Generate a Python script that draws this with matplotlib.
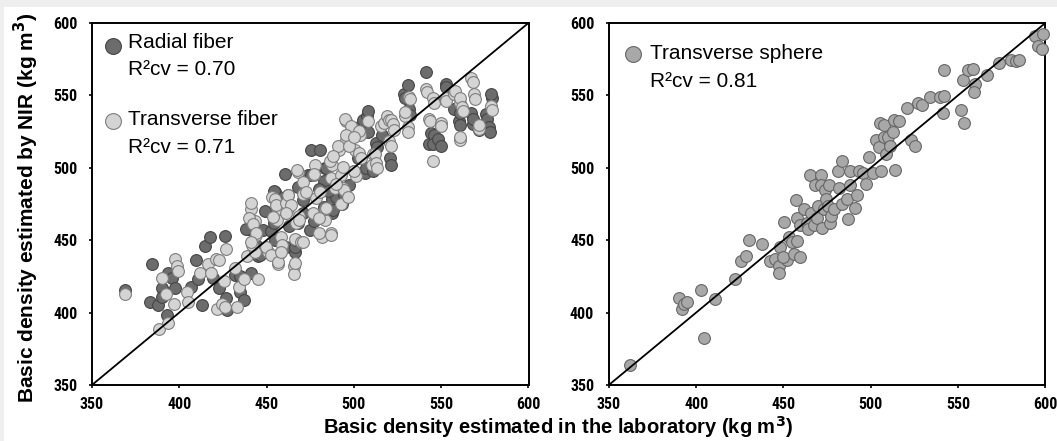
import matplotlib
matplotlib.use("Agg")
import matplotlib.pyplot as plt
from matplotlib import font_manager
from matplotlib.patches import Rectangle

# Radial fiber (dark grey)
radial_x = [369, 384.5, 383, 388, 393, 393.4, 389.9, 390, 396, 397.7, 406.6, 409.6, 413, 410.6,
            415, 417.5, 419.4, 423, 426, 427.4, 427, 432, 435, 437, 435, 441, 440.8, 441, 438.3,
            445, 446, 447.8, 444, 449,
            452.6, 454, 455, 454, 455, 457, 454.5, 460.5, 461, 462, 462, 466, 466, 466.8, 467.8,
            470.8, 474.7, 474, 475.7, 475.7, 480.6, 483.6, 484.1, 482.6, 482.6, 487.5, 487.5, 488,
            490, 494.4, 458, 463, 468, 471, 477, 480, 485, 490, 493, 497, 459,
            500, 502.4, 503, 505, 507.3, 508.3, 508, 506.3, 507, 511.2, 512.7, 513, 516, 520.7, 521.3,
            528.9, 529, 531, 531.8, 532, 541.4, 543, 544, 546, 545.5, 548, 550, 552.7, 553, 557.5,
            560.4, 561, 560.5, 567, 568, 568, 571.5, 575.6, 576, 577.5, 578, 579, 578.8]
radial_y = [415.7, 433.5, 407, 405.5, 398, 427.6, 417, 411, 424, 417, 418, 436, 405, 423,
            446, 452.5, 424, 417, 453, 401.5, 410, 426, 414.5, 409, 425, 427.6, 457, 464, 458,
            439.4, 440, 457, 447, 470,
            456, 462, 450, 482, 483, 480, 484, 495.5, 445, 474, 481, 442, 445, 450, 487,
            469, 457, 495, 495, 512, 512, 500, 500, 490.6, 473, 469, 478.6, 471,
            480, 481, 470, 460, 462, 478, 463, 485, 484, 490, 475, 488, 476,
            498, 507, 528, 533, 535.5, 525, 539, 496.5, 500, 497.5, 517.4, 514, 522.4, 506.6, 502,
            550.7, 548.4, 557, 540.4, 536.7, 566, 516.5, 524, 522.4, 516.5, 520, 515, 557.6, 555.6, 540.4,
            532.3, 538, 529.6, 538, 530, 534, 526, 537, 534, 527.8, 525, 548.5, 550.7]

# Transverse fiber (light grey)
transverse_x = [369, 388.5, 393.8, 389.9, 392.6, 397.4, 398.7, 399, 397, 404.6, 405, 411.6, 416.5,
                418, 421, 422.6, 426.9, 421.4, 424.4, 426.4, 433.3, 425.8, 432, 434, 437, 438.8,
                445, 443.5, 441.2, 443.5, 444, 441.6, 441, 440, 442, 444, 441, 450.6, 449.8,
                453, 455, 456.5, 456.5, 457, 458.5, 459, 456, 452.6, 456.4, 458.3, 453.5, 455.5,
                461, 462, 462.5, 464, 461.2, 465.8, 465.8, 466, 466, 467.8, 467.3, 466.8, 468.8,
                468.8, 469.8, 470.8, 470.7, 470.7, 472.7, 476.6, 477, 477.7, 477.4, 478.4, 480.6,
                481.6, 483.6, 483.6, 484.1, 480.3, 480.3, 487, 487.5, 487, 486.5, 487, 488.9,
                493.6, 491.5, 492.5, 492.5, 494.4, 496.4, 495.4, 495.4, 495.1, 498.4, 498.4,
                500.4, 501.4, 500.3, 493.6, 489.8, 490.7, 495.5, 487.9, 497.4, 503.3, 502.7,
                500.3, 503.1, 504.3, 508.3, 510.2, 510.7, 512.2, 512.7, 513, 515.6, 517, 519,
                520, 520.3, 521.3, 521.3, 522.2, 523,
                529, 529, 530.8, 531, 531.8, 532, 541.3, 542, 543.2, 543.8, 545.1, 545.5, 546,
                549.9, 550, 552.7, 553, 557.4, 558, 560.5, 560.7, 560.5, 560.7, 561.9, 562.5,
                567, 568, 569, 569.4, 571.5, 571.5, 578.8, 579]
transverse_y = [412.6, 389, 393, 424, 413, 437, 432, 428.7, 406, 414.5, 407, 427.6, 433.5,
                427.6, 437, 436, 444, 402.7, 406, 404, 404, 421.6, 431, 418, 423, 439.4,
                423, 442, 471.4, 463, 453.6, 446.5, 476, 465, 461, 455, 449, 442, 445,
                479.7, 478.6, 470, 433.5, 440.6, 452, 446.5, 464, 440, 435, 442, 466, 474,
                476, 468, 481, 474, 469, 432.3, 426.4, 451, 434, 497.4, 498.5, 462, 466.7,
                464, 449, 449, 482, 490, 483, 469, 495, 502, 496, 479, 483,
                452, 464, 471.4, 472, 465, 455, 455, 502, 453.6, 504.6, 493, 486,
                486, 512, 495, 475, 484.5, 480, 519, 532, 533.5, 526, 528.9,
                512, 494.4, 497.9, 500.2, 488.7, 515, 522.4, 508.2, 515, 522.3, 525.4,
                520.9, 510.5, 507, 532, 502, 509.4, 509.4, 503.6, 500, 528.9, 530.7, 535.5,
                533, 518.5, 515, 533, 530, 526,
                535.5, 538.5, 527.8, 525, 549, 547.5, 554.7, 552.4, 533.5, 532, 548.3, 504.8, 545,
                531.2, 529, 548.3, 546, 551, 553, 545, 548.3, 519, 521.3, 542.2, 539,
                561.7, 559, 550.7, 547.4, 527, 529.4, 542.6, 539.7]

# Transverse sphere (medium grey)
sphere_x = [362, 390.4, 392, 393, 395, 402.7, 404.7, 411, 422, 425.8, 428.6, 430, 438, 442.3,
            445.2, 447.2, 447.6, 448.2, 450.5, 452, 449.7, 453.4, 455, 456, 457.6, 459.5, 457.2,
            458, 459.5, 461.5, 463.4, 464.2, 465.4, 466, 467.4, 468.2, 469.3, 470, 471.3, 471.7,
            472, 473, 473.6, 474.6, 475.6, 476.2, 476.6, 477.2, 479, 481, 482, 483.4, 483.4,
            486.4, 487, 488, 488.3, 491, 492.2, 493.2, 495.8, 497.5, 499, 501, 503, 505, 505.4,
            506, 507.3, 507.5, 508.5, 510, 511, 512.5, 513.5, 514, 516.3, 520.6, 523, 525.5, 527,
            529.5, 533.8, 539.8, 541.8, 541.2, 541.8, 551.6, 553.6, 553, 555.5, 558.3, 559.8, 559,
            566.7, 573.2, 580.4, 583, 585, 594.2, 595.6, 598, 598.6]
sphere_y = [363.5, 409.8, 402.7, 406, 407, 415.7, 382.5, 409.3, 423.5, 435.4, 439.4, 450, 447.3,
            435.4, 437, 432.3, 427, 445.4, 462.4, 436.3, 438.7, 452.5, 449, 440.6, 449.6, 438.2,
            477.4, 465.5, 460.8, 471.4, 462, 457.7, 494.7, 469, 460.8, 488, 465.5, 473.8, 494.7,
            488, 458.4, 471.4, 484.5, 478.6, 473.8, 488, 462, 466.7, 471.4, 497.5, 485.7, 504.6,
            475, 478.6, 464.8, 488, 497.5, 472, 481.4, 497.5, 496.4, 489, 507.5, 496.4, 519, 514,
            530.7, 497.5, 521.2, 529.6, 509.4, 521, 515.3, 524.8, 533, 498.7, 532.6, 541.4, 519,
            515.3, 545, 543, 549.2, 549.2, 549.7, 537.9, 567.5, 540.2, 531.2, 560.4, 567.5, 568.2,
            558, 552, 564, 572.2, 574.6, 573.4, 574.6, 591.2, 584, 581.7, 592.4]

ticks = [350, 400, 450, 500, 550, 600]
tick_labels = [str(t) for t in ticks]

# condensed bold for tick numbers (closest to Arial Narrow Bold)
tick_font = font_manager.FontProperties(family='Roboto Condensed', weight='bold', size=11.5)

fig = plt.figure(figsize=(10.57, 4.41), dpi=100)
fig.patch.set_facecolor('#eeeeee')
fig.add_artist(Rectangle((4 / 1057, 0), 1, 1 - 7 / 441, transform=fig.transFigure,
                         facecolor='white', edgecolor='none', zorder=-10))

ax1 = fig.add_axes([0.087, 0.127, 0.413, 0.821])
ax2 = fig.add_axes([0.576, 0.127, 0.413, 0.821])

ax1.scatter(radial_x, radial_y, s=72, c='#6c6c6c', edgecolors='#454545', linewidths=0.8, zorder=3, clip_on=False)
ax1.scatter(transverse_x, transverse_y, s=72, c='#d4d4d4', edgecolors='#7e7e7e', linewidths=0.8, zorder=3, clip_on=False)
ax2.scatter(sphere_x, sphere_y, s=72, c='#a8a8a8', edgecolors='#666666', linewidths=0.8, zorder=3, clip_on=False)

for ax in (ax1, ax2):
    ax.set_facecolor('white')
    ax.plot([350, 600], [350, 600], color='black', lw=1.3, zorder=4)
    ax.set_xlim(350, 600)
    ax.set_ylim(350, 600)
    ax.set_xticks(ticks)
    ax.set_yticks(ticks)
    ax.set_xticklabels(tick_labels, fontproperties=tick_font)
    ax.set_yticklabels(tick_labels, fontproperties=tick_font)
    ax.tick_params(direction='out', length=2.5, width=1.2)
    ax.tick_params(axis='x', pad=6)
    ax.tick_params(axis='y', pad=8)
    for sp in ax.spines.values():
        sp.set_linewidth(1.4)

leg_font = dict(family='Liberation Sans', fontsize=15, va='center', ha='left')
ax1.scatter([0.049], [0.936], s=130, c='#6c6c6c', edgecolors='#454545', linewidths=0.8, transform=ax1.transAxes)
ax1.text(0.083, 0.946, 'Radial fiber', transform=ax1.transAxes, **leg_font)
ax1.text(0.083, 0.870, 'R²cv = 0.70', transform=ax1.transAxes, **leg_font)
ax1.scatter([0.049], [0.728], s=130, c='#d4d4d4', edgecolors='#7e7e7e', linewidths=0.8, transform=ax1.transAxes)
ax1.text(0.083, 0.733, 'Transverse fiber', transform=ax1.transAxes, **leg_font)
ax1.text(0.083, 0.655, 'R²cv = 0.71', transform=ax1.transAxes, **leg_font)

ax2.scatter([0.056], [0.915], s=130, c='#a8a8a8', edgecolors='#666666', linewidths=0.8, transform=ax2.transAxes)
ax2.text(0.095, 0.915, 'Transverse sphere', transform=ax2.transAxes, **leg_font)
ax2.text(0.095, 0.837, 'R²cv = 0.81', transform=ax2.transAxes, **leg_font)

fig.text(558 / 1057, 1 - 427 / 441, r'Basic density estimated in the laboratory (kg m$^{\mathbf{3}}$)',
         ha='center', va='center', family='Liberation Sans', fontsize=14.5, fontweight='bold')
fig.text(26 / 1057, 1 - 208 / 441, r'Basic density estimated by NIR (kg m$^{\mathbf{3}}$)',
         ha='center', va='center', rotation=90, family='Liberation Sans', fontsize=15, fontweight='bold')

fig.savefig('out.png', dpi=100, facecolor=fig.get_facecolor())
